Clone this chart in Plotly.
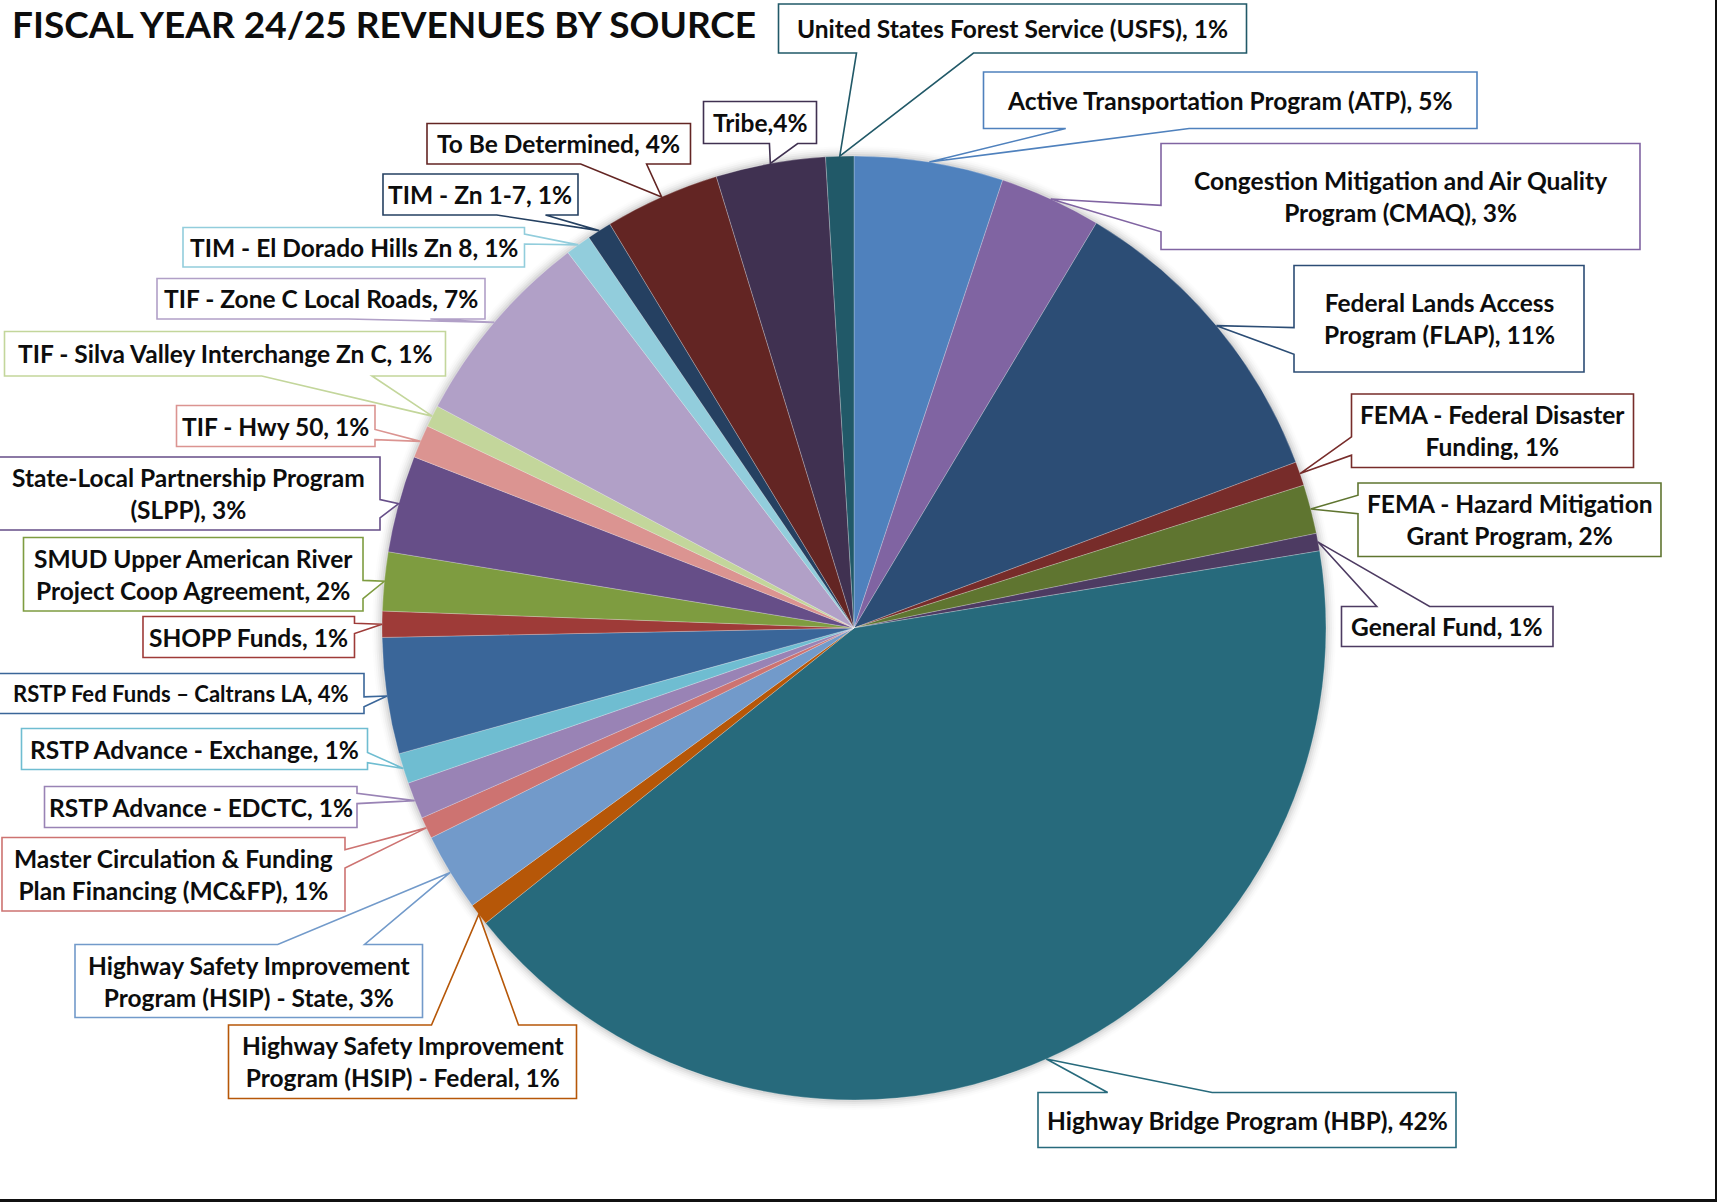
import math
import plotly.graph_objects as go

W, H = 1717, 1202

# ---------------- data ----------------
categories = [
    "Active Transportation Program (ATP)",
    "Congestion Mitigation and Air Quality Program (CMAQ)",
    "Federal Lands Access Program (FLAP)",
    "FEMA - Federal Disaster Funding",
    "FEMA - Hazard Mitigation Grant Program",
    "General Fund",
    "Highway Bridge Program (HBP)",
    "Highway Safety Improvement Program (HSIP) - Federal",
    "Highway Safety Improvement Program (HSIP) - State",
    "Master Circulation & Funding Plan Financing (MC&FP)",
    "RSTP Advance - EDCTC",
    "RSTP Advance - Exchange",
    "RSTP Fed Funds \u2013 Caltrans LA",
    "SHOPP Funds",
    "SMUD Upper American River Project Coop Agreement",
    "State-Local Partnership Program (SLPP)",
    "TIF - Hwy 50",
    "TIF - Silva Valley Interchange Zn C",
    "TIF - Zone C Local Roads",
    "TIM - El Dorado Hills Zn 8",
    "TIM - Zn 1-7",
    "To Be Determined",
    "Tribe",
    "United States Forest Service (USFS)",
]
values = [5.10, 3.48, 10.70, 0.82, 1.68, 0.60, 41.85, 0.75, 2.67, 0.74, 1.26, 1.04,
          3.97, 0.89, 2.01, 3.32, 1.13, 0.75, 6.85, 0.87, 0.84, 3.94, 3.75, 0.96]
label_templates = [
    "Active Transportation Program (ATP), {p}%",
    "Congestion Mitigation and Air Quality<br>Program (CMAQ), {p}%",
    "Federal Lands Access<br>Program (FLAP), {p}%",
    "FEMA - Federal Disaster<br>Funding, {p}%",
    "FEMA - Hazard Mitigation<br>Grant Program, {p}%",
    "General Fund, {p}%",
    "Highway Bridge Program (HBP), {p}%",
    "Highway Safety Improvement<br>Program (HSIP) - Federal, {p}%",
    "Highway Safety Improvement<br>Program (HSIP) - State, {p}%",
    "Master Circulation &amp; Funding<br>Plan Financing (MC&amp;FP), {p}%",
    "RSTP Advance - EDCTC, {p}%",
    "RSTP Advance - Exchange, {p}%",
    "RSTP Fed Funds \u2013 Caltrans LA, {p}%",
    "SHOPP Funds, {p}%",
    "SMUD Upper American River<br>Project Coop Agreement, {p}%",
    "State-Local Partnership Program<br>(SLPP), {p}%",
    "TIF - Hwy 50, {p}%",
    "TIF - Silva Valley Interchange Zn C, {p}%",
    "TIF - Zone C Local Roads, {p}%",
    "TIM - El Dorado Hills Zn 8, {p}%",
    "TIM - Zn 1-7, {p}%",
    "To Be Determined, {p}%",
    "Tribe,{p}%",
    "United States Forest Service (USFS), {p}%",
]
colors = [
    "#4F81BD", "#8064A2", "#2C4D75", "#772C2A", "#5F7530", "#4D3B62",
    "#276A7C", "#B65708", "#729ACA", "#CD7371", "#9983B5", "#6FBDD1",
    "#3A6699", "#9E3B38", "#7E9C40", "#664E88", "#DB9491", "#C3D69B",
    "#B1A0C7", "#92CDDC", "#254061", "#632523", "#403151", "#215968",
]

# ---------------- layout (pixels) ----------------
CX, CY, R = 854, 628, 472
# callout boxes: left, top, right, bottom
boxes = [
    (983.5, 72, 1477, 128.5),
    (1161, 143.5, 1640, 249.5),
    (1294, 265.5, 1584, 372),
    (1351.5, 394, 1633.5, 467.5),
    (1358, 483, 1661, 556.5),
    (1341.5, 606.5, 1553, 646.5),
    (1038, 1092.5, 1456, 1147.5),
    (228.5, 1025, 576.5, 1098.5),
    (75, 944.5, 422.5, 1017.5),
    (2, 837.5, 345, 911),
    (44.5, 786.5, 357, 827.5),
    (21.5, 728.5, 367.5, 769.5),
    (-3, 673.5, 364, 713.5),
    (143, 616.5, 354.5, 657.5),
    (23.5, 537.5, 363, 611),
    (-3, 457, 380, 530),
    (176.5, 405.5, 375, 446.5),
    (4.5, 331.5, 445.5, 376),
    (157, 278.5, 485, 319),
    (183, 227.5, 524.5, 267),
    (383, 174, 578, 215),
    (427, 123.5, 690.5, 164),
    (703.5, 101.5, 816.5, 143.5),
    (778.5, 4, 1246.5, 53),
]
FONT = "Lato"
BASE_SIZE = 24.5
small_labels = {"RSTP Fed Funds \u2013 Caltrans LA"}


def px(x, y):
    return x / W, 1 - y / H


def callout_path(box, tip):
    l, t, r, b = box
    tx, ty = tip
    w, h = r - l, b - t
    hc, vc = (l + r) / 2, (t + b) / 2
    dxp, dyp = tx - hc, ty - vc
    if abs(dxp * h) > abs(dyp * w):
        y1, y2 = ((t + h * 7 / 12, t + h * 10 / 12) if dyp > 0
                  else (t + h * 2 / 12, t + h * 5 / 12))
        if dxp < 0:
            pts = [(l, t), (r, t), (r, b), (l, b), (l, y2), (tx, ty), (l, y1)]
        else:
            pts = [(l, t), (r, t), (r, y1), (tx, ty), (r, y2), (r, b), (l, b)]
    else:
        x1, x2 = ((l + w * 7 / 12, l + w * 10 / 12) if dxp > 0
                  else (l + w * 2 / 12, l + w * 5 / 12))
        if dyp < 0:
            pts = [(l, t), (x1, t), (tx, ty), (x2, t), (r, t), (r, b), (l, b)]
        else:
            pts = [(l, t), (r, t), (r, b), (x2, b), (tx, ty), (x1, b), (l, b)]
    return "M " + " L ".join("%.5f,%.5f" % px(x, y) for x, y in pts) + " Z"


total = sum(values)

fig = go.Figure()
fig.add_trace(go.Pie(
    labels=categories,
    values=values,
    sort=False,
    direction="clockwise",
    rotation=0,
    textinfo="none",
    hoverinfo="label+percent",
    marker=dict(colors=colors, line=dict(color="rgba(255,255,255,0.35)", width=0.7)),
    domain=dict(x=[(CX - R) / W, (CX + R) / W], y=[1 - (CY + R) / H, 1 - (CY - R) / H]),
    showlegend=False,
))

shapes = []
# soft glow around the pie
for i, a in enumerate([0.05, 0.04, 0.03, 0.02, 0.012]):
    rr = R + 2 + i * 2
    x0, y0 = px(CX - rr, CY + rr)
    x1, y1 = px(CX + rr, CY - rr)
    shapes.append(dict(type="circle", xref="paper", yref="paper", x0=x0, y0=y0, x1=x1, y1=y1,
                       fillcolor="rgba(0,0,0,%.3f)" % a, line=dict(width=0), layer="below"))

annotations = []
cum = 0.0
for cat, v, tmpl, col, box in zip(categories, values, label_templates, colors, boxes):
    mid = (cum + v / 2) / total * 2 * math.pi
    cum += v
    tip = (CX + R * math.sin(mid), CY - R * math.cos(mid))
    shapes.append(dict(type="path", xref="paper", yref="paper", path=callout_path(box, tip),
                       fillcolor="white", line=dict(color=col, width=1.6), layer="above"))
    pct = int(v / total * 100 + 0.5)
    l, t, r, b = box
    cx, cy = px((l + r) / 2, (t + b) / 2)
    size = BASE_SIZE * 0.9 if cat in small_labels else BASE_SIZE
    annotations.append(dict(x=cx, y=cy, xref="paper", yref="paper", xanchor="center",
                            yanchor="middle", showarrow=False, align="center",
                            text="<b>" + tmpl.format(p=pct) + "</b>",
                            font=dict(family=FONT, size=size, color="#0d0d0d")))

# title
tx, ty = px(10, 24)
annotations.append(dict(x=tx, y=ty, xref="paper", yref="paper", xanchor="left", yanchor="middle",
                        showarrow=False, text="<b>FISCAL YEAR 24/25 REVENUES BY SOURCE</b>",
                        font=dict(family=FONT, size=37, color="#0d0d0d")))

# page frame (right and bottom edges)
shapes.append(dict(type="rect", xref="paper", yref="paper", x0=1715 / W, x1=1, y0=0, y1=1,
                   fillcolor="#111111", line=dict(width=0)))
shapes.append(dict(type="rect", xref="paper", yref="paper", x0=0, x1=1, y0=0, y1=3 / H,
                   fillcolor="#111111", line=dict(width=0)))

fig.update_layout(
    width=W, height=H,
    margin=dict(l=0, r=0, t=0, b=0),
    paper_bgcolor="white", plot_bgcolor="white",
    shapes=shapes, annotations=annotations,
)

fig.write_html("out.html")
